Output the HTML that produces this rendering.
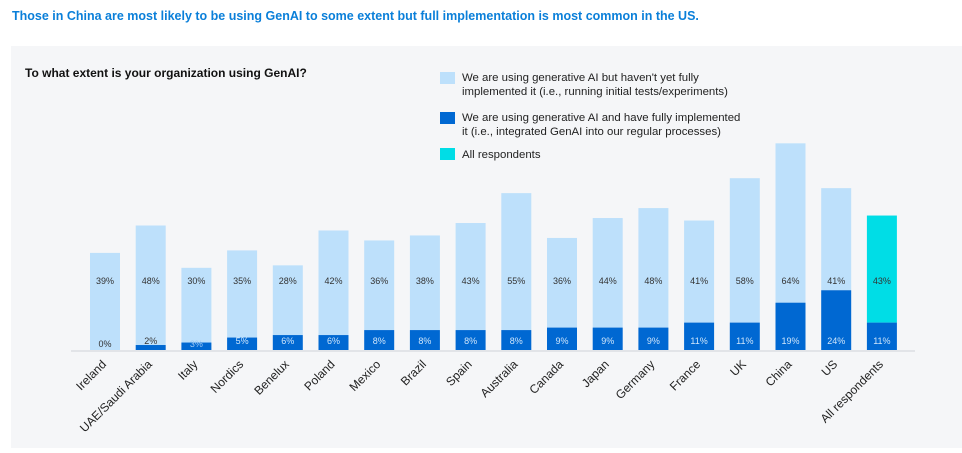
<!DOCTYPE html>
<html><head><meta charset="utf-8"><style>
body{margin:0;width:962px;height:448px;background:#fff;font-family:"Liberation Sans",sans-serif;overflow:hidden}
</style></head><body>
<svg width="962" height="448" xmlns="http://www.w3.org/2000/svg" font-family="Liberation Sans, sans-serif">
<text x="12" y="20" font-size="12.5" font-weight="bold" fill="#0a7fd9">Those in China are most likely to be using GenAI to some extent but full implementation is most common in the US.</text>
<rect x="11" y="46" width="951" height="402" fill="#f5f6f8"/>
<text x="25" y="77" font-size="12" font-weight="bold" fill="#111">To what extent is your organization using GenAI?</text>
<g font-size="11.4" fill="#222">
<rect x="440" y="72" width="15" height="12" fill="#bde0fb"/>
<text x="462" y="81">We are using generative AI but haven't yet fully</text>
<text x="462" y="95">implemented it (i.e., running initial tests/experiments)</text>
<rect x="440" y="112" width="15" height="12" fill="#0068d2"/>
<text x="462" y="121">We are using generative AI and have fully implemented</text>
<text x="462" y="135">it (i.e., integrated GenAI into our regular processes)</text>
<rect x="440" y="148" width="15" height="12" fill="#00dde6"/>
<text x="462" y="158">All respondents</text>
</g>
<line x1="71" y1="351" x2="915" y2="351" stroke="#e2e4e8" stroke-width="2"/>
<g id="bars"></g>
</svg>
<script>
const categories=["Ireland","UAE/Saudi Arabia","Italy","Nordics","Benelux","Poland","Mexico","Brazil","Spain","Australia","Canada","Japan","Germany","France","UK","China","US","All respondents"];
const testingValues=[39,48,30,35,28,42,36,38,43,55,36,44,48,41,58,64,41,43];
const implementedValues=[0,2,3,5,6,6,8,8,8,8,9,9,9,11,11,19,24,11];
const NS="http://www.w3.org/2000/svg";
const base=350, scale=2.49, x0=90, pitch=45.7, bw=30;
const xs=i=>x0+i*pitch;
const ys=v=>v*scale;
const g=document.getElementById('bars');
function mk(tag,attrs){const e=document.createElementNS(NS,tag);for(const k in attrs)e.setAttribute(k,attrs[k]);return e;}
categories.forEach((c,i)=>{
  const x=xs(i), hi=ys(implementedValues[i]), ht=ys(testingValues[i]);
  const last=i===categories.length-1;
  const r1=mk('rect',{x:x,y:base-hi-ht,width:bw,height:ht,fill:last?'#00dde6':'#bde0fb'});
  
  
  g.appendChild(r1);
  const r2=mk('rect',{x:x,y:base-hi,width:bw,height:hi,fill:'#0068d2'});
  
  
  g.appendChild(r2);
  const t1=mk('text',{x:x+bw/2,y:284,'font-size':'9','text-anchor':'middle',fill:'#333'});
  t1.textContent=testingValues[i]+'%';
  
  
  g.appendChild(t1);
  const v=implementedValues[i];
  const ly=v<=3?(v===2?344:347):344;
  const t2=mk('text',{x:x+bw/2,y:ly,'font-size':'9','text-anchor':'middle',fill:v<=2?'#333':(v===3?'#9cc8f5':'#cfe6fb')});
  t2.textContent=v+'%';
  
  
  g.appendChild(t2);
  const cx=x+bw/2+2;
  const t3=mk('text',{x:cx,y:365,'font-size':'12','text-anchor':'end',fill:'#222',transform:`rotate(-45 ${cx} 365)`});
  t3.textContent=c;
  
  
  g.appendChild(t3);
});
</script>
</body></html>
